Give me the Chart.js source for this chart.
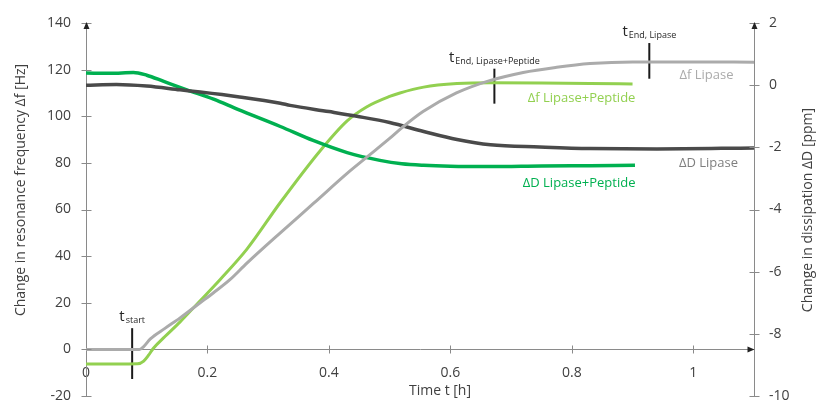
<!DOCTYPE html>
<html>
<head>
<meta charset="utf-8">
<script src="https://cdn.jsdelivr.net/npm/chart.js@4/dist/chart.umd.min.js"></script>
<style>
  html, body { margin: 0; padding: 0; background: #ffffff; }
  #wrap { width: 816px; height: 404px; }
</style>
</head>
<body>
<div id="wrap"><canvas id="qcm" width="816" height="404"></canvas></div>
<script>
// Δf Lipase — frequency shift [Hz], left axis
const timeDfLipase = [0, 0.05, 0.088, 0.095, 0.106, 0.13, 0.155, 0.188, 0.21, 0.237, 0.265, 0.32, 0.375, 0.43, 0.465, 0.5, 0.52, 0.555, 0.61, 0.666, 0.72, 0.775, 0.83, 0.9, 1.0, 1.1];
const dfLipase     = [0, 0, 0, 1.2, 4.5, 9, 13.5, 20, 24.3, 29.9, 37, 50, 62.7, 75.5, 83, 90.5, 95, 102, 110, 115.4, 118.8, 121, 122.6, 123.3, 123.3, 123.2];

// Δf Lipase+Peptide — frequency shift [Hz], left axis
const timeDfPeptide = [0, 0.05, 0.085, 0.095, 0.103, 0.111, 0.13, 0.155, 0.183, 0.221, 0.265, 0.32, 0.385, 0.43, 0.462, 0.5, 0.517, 0.556, 0.611, 0.666, 0.75, 0.83, 0.9];
const dfPeptide     = [-6.3, -6.3, -6.2, -5, -2.5, 0.5, 5.5, 11.8, 19.5, 30, 43, 63, 85, 98, 104, 108.5, 110, 112.5, 114, 114.4, 114.3, 114.1, 113.8];

// ΔD Lipase — dissipation shift [ppm], right axis
const timeDdLipase = [0, 0.05, 0.1, 0.155, 0.188, 0.25, 0.32, 0.336, 0.4, 0.446, 0.5, 0.556, 0.611, 0.666, 0.747, 0.83, 0.94, 1.1];
const ddLipase     = [0, 0.02, -0.03, -0.15, -0.22, -0.37, -0.58, -0.65, -0.85, -1.0, -1.2, -1.49, -1.75, -1.92, -1.99, -2.04, -2.05, -2.02];

// ΔD Lipase+Peptide — dissipation shift [ppm], right axis
const timeDdPeptide = [0, 0.04, 0.078, 0.1, 0.128, 0.166, 0.21, 0.25, 0.32, 0.374, 0.43, 0.484, 0.52, 0.556, 0.6, 0.666, 0.75, 0.83, 0.904];
const ddPeptide     = [0.39, 0.38, 0.41, 0.32, 0.12, -0.15, -0.45, -0.78, -1.33, -1.78, -2.17, -2.42, -2.53, -2.58, -2.61, -2.62, -2.6, -2.59, -2.58];

// Event markers (time [h], vertical extent in Hz on the left axis)
const markerTimes = [0.076, 0.6725, 0.9276];
const markerLow   = [-12.7, 105.4, 116.1];
const markerHigh  = [9.1, 120.4, 131.4];
const markerSubs  = ['start', 'End, Lipase+Peptide', 'End, Lipase'];

// Axis ranges and ticks
const freqTicks = { min: -20, max: 140, step: 20 };
const dissTicks = { min: -10, max: 2, step: 2 };
const timeTicks = { min: 0, max: 1.1, step: 0.2 };

const AXIS = '#8a8a8a';
const TEXT = '#404040';
const FONT = "'Open Sans', 'DejaVu Sans', sans-serif";
const C_LIGHTGRAY = '#ababab';
const C_DARKGRAY = '#4a4a4a';
const C_LIGHTGREEN = '#92d050';
const C_GREEN = '#00b050';

Chart.defaults.font.family = FONT;
Chart.defaults.color = TEXT;

const pts = (xs, ys) => xs.map((t, i) => ({ x: t, y: ys[i] }));

const seriesDatasets = [
  { data: pts(timeDfLipase, dfLipase), borderColor: C_LIGHTGRAY, borderWidth: 3, yAxisID: 'y' },
  { data: pts(timeDdLipase, ddLipase), borderColor: C_DARKGRAY, borderWidth: 3.5, yAxisID: 'y2' },
  { data: pts(timeDdPeptide, ddPeptide), borderColor: C_GREEN, borderWidth: 3.5, yAxisID: 'y2' },
  { data: pts(timeDfPeptide, dfPeptide), borderColor: C_LIGHTGREEN, borderWidth: 3, yAxisID: 'y' }
].map(d => Object.assign(d, { pointRadius: 0, cubicInterpolationMode: 'monotone', fill: false }));

const markerDatasets = markerTimes.map((t, i) => ({
  data: [{ x: t, y: markerLow[i] }, { x: t, y: markerHigh[i] }],
  borderColor: '#1a1a1a', borderWidth: 2, pointRadius: 0, yAxisID: 'y', fill: false
}));

function seg(ctx, x1, y1, x2, y2) {
  ctx.beginPath(); ctx.moveTo(x1, y1); ctx.lineTo(x2, y2); ctx.stroke();
}

// vertical axes: fixed width, no extra label padding above/below the plot
function fixVertical(width) {
  return s => { s.width = width; s.paddingTop = 0; s.paddingBottom = 0; };
}

const decorations = {
  id: 'decorations',
  afterDraw(chart) {
    const { ctx } = chart;
    const { x, y, y2 } = chart.scales;
    const xl = Math.round(x.getPixelForValue(timeTicks.min)) + 0.5;
    const xr = Math.round(x.getPixelForValue(timeTicks.max)) + 0.5;
    const yz = Math.round(y.getPixelForValue(0)) + 0.5;
    const yt = y.getPixelForValue(freqTicks.max);

    ctx.save();
    // tick marks crossing the axes
    ctx.strokeStyle = AXIS; ctx.lineWidth = 1;
    y.ticks.forEach(t => { const p = Math.round(y.getPixelForValue(t.value)) + 0.5; seg(ctx, xl - 5, p, xl + 5, p); });
    y2.ticks.forEach(t => { const p = Math.round(y2.getPixelForValue(t.value)) + 0.5; seg(ctx, xr - 5, p, xr + 5, p); });
    x.ticks.forEach(t => { if (t.value > 0) { const p = Math.round(x.getPixelForValue(t.value)) + 0.5; seg(ctx, p, yz - 4, p, yz + 4); } });

    // arrowheads at the axis ends
    ctx.fillStyle = '#222222';
    const up = (px, py) => { ctx.beginPath(); ctx.moveTo(px, py - 1); ctx.lineTo(px - 3, py + 6); ctx.lineTo(px + 3, py + 6); ctx.closePath(); ctx.fill(); };
    up(xl, yt); up(xr, yt);
    ctx.beginPath(); ctx.moveTo(xr, yz); ctx.lineTo(xr - 7, yz - 3); ctx.lineTo(xr - 7, yz + 3); ctx.closePath(); ctx.fill();

    // axis titles
    ctx.fillStyle = TEXT;
    ctx.font = '14px ' + FONT;
    ctx.textAlign = 'center'; ctx.textBaseline = 'middle';
    ctx.fillText('Time t [h]', 440, 391);
    ctx.save(); ctx.translate(21, 190); ctx.rotate(-Math.PI / 2);
    ctx.fillText('Change in resonance frequency \u0394f [Hz]', 0, 0); ctx.restore();
    ctx.save(); ctx.translate(808, 210); ctx.rotate(-Math.PI / 2);
    ctx.fillText('Change in dissipation \u0394D [ppm]', 0, 0); ctx.restore();

    // series labels
    const labels = [
      ['\u0394f Lipase', C_LIGHTGRAY, 1.0217, 117.6],
      ['\u0394f Lipase+Peptide', C_LIGHTGREEN, 0.816, 107.8],
      ['\u0394D Lipase', '#7f7f7f', 1.025, 80.0],
      ['\u0394D Lipase+Peptide', C_GREEN, 0.812, 71.3]
    ];
    ctx.font = '13px ' + FONT;
    labels.forEach(([txt, col, tx, ty]) => {
      ctx.fillStyle = col;
      ctx.fillText(txt, x.getPixelForValue(tx), y.getPixelForValue(ty));
    });

    // event marker labels: t with subscript
    ctx.fillStyle = '#262626';
    ctx.textAlign = 'left'; ctx.textBaseline = 'alphabetic';
    markerTimes.forEach((t, i) => {
      const px = x.getPixelForValue(t);
      const base = y.getPixelForValue(markerHigh[i]) - 7;
      ctx.font = '15px ' + FONT;
      const wT = ctx.measureText('t').width;
      ctx.font = '9px ' + FONT;
      const wS = ctx.measureText(markerSubs[i]).width;
      const left = px - (wT + wS + 1) / 2;
      ctx.font = '15px ' + FONT;
      ctx.fillText('t', left, base);
      ctx.font = '9px ' + FONT;
      ctx.fillText(markerSubs[i], left + wT + 1, base + 2);
    });
    ctx.restore();
  }
};

new Chart(document.getElementById('qcm'), {
  type: 'line',
  data: { datasets: seriesDatasets.concat(markerDatasets) },
  options: {
    responsive: false,
    animation: false,
    devicePixelRatio: 1,
    layout: { padding: { top: 23, bottom: 8, left: 0, right: 0 } },
    plugins: { legend: { display: false }, tooltip: { enabled: false } },
    scales: {
      x: {
        type: 'linear', position: { y: 0 },
        min: timeTicks.min, max: timeTicks.max,
        grid: { display: false, drawTicks: false },
        border: { display: true, color: AXIS, width: 1 },
        ticks: {
          stepSize: timeTicks.step, includeBounds: false, padding: 15, maxRotation: 0,
          color: TEXT, font: { size: 14 },
          callback: v => String(+v.toFixed(2))
        },
        afterFit(s) { s.height = 0; s.paddingLeft = 0; s.paddingRight = 0; }
      },
      y: {
        position: 'left',
        min: freqTicks.min, max: freqTicks.max,
        grid: { display: false, drawTicks: false },
        border: { display: true, color: AXIS, width: 1 },
        ticks: { stepSize: freqTicks.step, padding: 15, color: TEXT, font: { size: 14 } },
        afterFit: fixVertical(86)
      },
      y2: {
        position: 'right',
        min: dissTicks.min, max: dissTicks.max,
        grid: { display: false, drawTicks: false },
        border: { display: true, color: AXIS, width: 1 },
        ticks: { stepSize: dissTicks.step, padding: 15, color: TEXT, font: { size: 14 } },
        afterFit: fixVertical(62)
      }
    }
  },
  plugins: [decorations]
});
</script>
</body>
</html>
